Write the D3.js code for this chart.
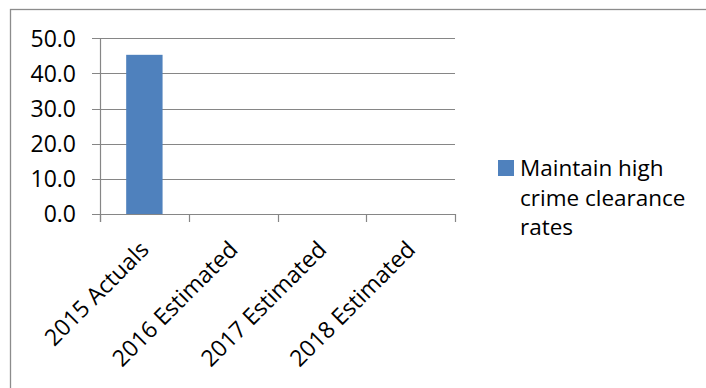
<!DOCTYPE html>
<html>
<head>
<meta charset="utf-8">
<script src="https://cdn.jsdelivr.net/npm/d3@7"></script>
<style>
  html, body { margin: 0; padding: 0; background: #fff; }
  svg { display: block; }
  text { font-family: "Open Sans", sans-serif; fill: #000; }
</style>
</head>
<body>
<svg id="chart" width="706" height="388"></svg>
<script>
const categories = ["2015 Actuals", "2016 Estimated", "2017 Estimated", "2018 Estimated"];
const seriesName = "Maintain high crime clearance rates";
const legendLines = ["Maintain high", "crime clearance", "rates"];
const values = [45.3, null, null, null];
const yTicks = [0, 10, 20, 30, 40, 50];

const svg = d3.select("#chart");
const W = 706, H = 388;
const plot = { left: 100, right: 455, top: 38.3, bottom: 214 };
const gridColor = "#868686";
const barColor = "#4F81BD";
const fontSize = 23;

// outer border (extends beyond the window on right/bottom)
svg.append("rect")
  .attr("x", 10.5).attr("y", 9.5)
  .attr("width", W + 20).attr("height", H + 20)
  .attr("fill", "none").attr("stroke", "#8c8c8c").attr("stroke-width", 1.3);

const x = d3.scaleBand().domain(categories).range([plot.left, plot.right]).paddingInner(0.59).paddingOuter(0.295);
const xOuter = d3.scaleBand().domain(categories).range([plot.left, plot.right]);
const y = d3.scaleLinear().domain([0, 50]).range([plot.bottom, plot.top]);

// gridlines
svg.append("g").selectAll("line").data(yTicks).join("line")
  .attr("x1", plot.left - 8).attr("x2", plot.right)
  .attr("y1", d => Math.round(y(d)) + 0.5).attr("y2", d => Math.round(y(d)) + 0.5)
  .attr("stroke", gridColor).attr("stroke-width", 1.2);

// y axis line
svg.append("line")
  .attr("x1", plot.left + 0.5).attr("x2", plot.left + 0.5)
  .attr("y1", plot.top).attr("y2", plot.bottom + 8)
  .attr("stroke", gridColor).attr("stroke-width", 1.2);

// x tick marks at category boundaries
const boundaries = categories.map(c => xOuter(c)).concat([plot.right]);
svg.append("g").selectAll("line").data(boundaries).join("line")
  .attr("x1", d => Math.round(d) + 0.5).attr("x2", d => Math.round(d) + 0.5)
  .attr("y1", plot.bottom).attr("y2", plot.bottom + 8)
  .attr("stroke", gridColor).attr("stroke-width", 1.2);

// bars
const data = categories.map((c, i) => ({ c, v: values[i] })).filter(d => d.v != null);
svg.append("g").selectAll("rect").data(data).join("rect")
  .attr("x", d => x(d.c))
  .attr("width", x.bandwidth())
  .attr("y", d => y(d.v))
  .attr("height", d => y(0) - y(d.v))
  .attr("fill", barColor);

// y labels
svg.append("g").selectAll("text").data(yTicks).join("text")
  .attr("x", 76).attr("y", d => y(d))
  .attr("dy", "0.36em")
  .attr("text-anchor", "end")
  .style("font-size", fontSize + "px")
  .text(d => d.toFixed(1));

// x labels rotated
svg.append("g").selectAll("text").data(categories).join("text")
  .attr("transform", d => `translate(${xOuter(d) + xOuter.bandwidth() / 2 + 6},${plot.bottom + 37}) rotate(-45)`)
  .attr("text-anchor", "end")
  .style("font-size", fontSize + "px")
  .text(d => d);

// legend
const lg = svg.append("g").attr("aria-label", seriesName);
lg.append("rect").attr("x", 498).attr("y", 160).attr("width", 16).attr("height", 16).attr("fill", barColor);
lg.selectAll("text").data(legendLines).join("text")
  .attr("x", 520).attr("y", (d, i) => 176 + i * 29.5)
  .style("font-size", "22.5px")
  .text(d => d);
</script>
</body>
</html>
